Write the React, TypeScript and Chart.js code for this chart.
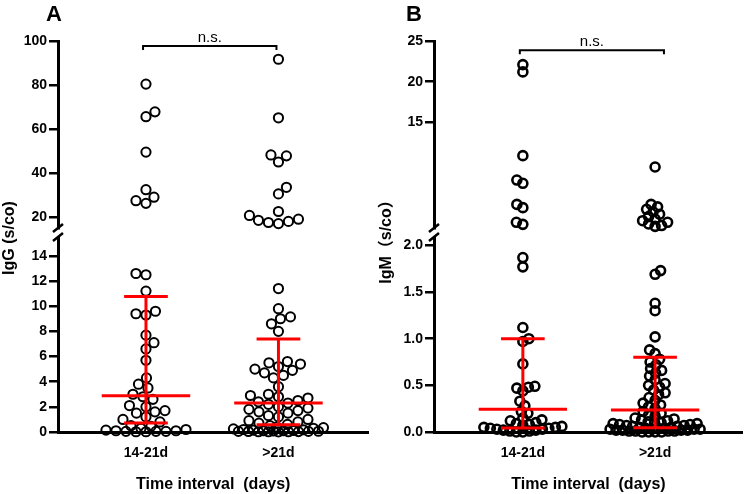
import React, { useEffect, useRef } from 'react';
import { Chart, registerables } from 'chart.js';

Chart.register(...registerables);

const FONT = "Arial, 'Liberation Sans', 'Noto Sans CJK SC', sans-serif";
Chart.defaults.font.family = FONT;

// ---------- data ----------
const categories = ['14-21d', '>21d'];

// Panel A: IgG
const iggEarlyUpper = [80.4, 67.8, 65.6, 49.5, 32.4, 29.0, 27.4, 26.2];
const iggEarlyLower = [12.6, 12.5, 11.2, 9.6, 9.4, 9.3, 7.7, 7.1, 6.6, 5.7, 4.3, 3.8, 3.5, 3.0, 2.8, 2.6, 2.1, 2.0, 1.7, 1.6, 1.5, 1.2, 1.0, 0.8, 0.5, 0.45, 0.3, 0.2, 0.15, 0.1, 0.1, 0.05, 0.05, 0.05, 0.02, 0.02];
const iggLateUpper = [91.7, 65.1, 48.2, 47.8, 45.0, 33.5, 30.5, 22.5, 20.7, 19.0, 18.5, 18.0, 17.5, 17.0];
const iggLateLower = [11.4, 9.8, 9.15, 9.0, 8.6, 8.0, 5.6, 5.5, 5.4, 5.2, 5.0, 4.9, 4.7, 4.5, 4.3, 3.6, 3.0, 2.9, 2.8, 2.7, 2.5, 2.4, 2.3, 2.2, 2.0, 1.9, 1.8, 1.7, 1.6, 1.5, 1.3, 1.2, 1.0, 0.9, 0.8, 0.7, 0.6, 0.5, 0.4, 0.35, 0.3, 0.25, 0.2, 0.18, 0.15, 0.12, 0.1, 0.1, 0.08, 0.06, 0.05, 0.05, 0.04, 0.03, 0.02, 0.02, 0.02, 0.01];
const iggMedian = [2.88, 2.3];
const iggQ1 = [0.72, 0.57];
const iggQ3 = [10.77, 7.4];
const iggUpperTicks = [20, 40, 60, 80, 100];
const iggLowerTicks = [0, 2, 4, 6, 8, 10, 12, 14];

// Panel B: IgM
const igmEarlyUpper = [22.1, 21.2, 10.9, 7.9, 7.5, 4.9, 4.5, 2.7, 2.45];
const igmEarlyLower = [1.87, 1.77, 1.12, 1.0, 0.97, 0.73, 0.49, 0.48, 0.47, 0.44, 0.33, 0.28, 0.22, 0.2, 0.15, 0.13, 0.12, 0.1, 0.09, 0.08, 0.07, 0.06, 0.05, 0.05, 0.04, 0.04, 0.03, 0.03, 0.02, 0.02, 0.01, 0.01, 0.0, 0.0];
const igmLateUpper = [9.5, 4.9, 4.6, 4.3, 4.0, 3.7, 3.4, 3.1, 2.9, 2.7, 2.5, 2.3, 2.2];
const igmLateLower = [1.73, 1.69, 1.38, 1.3, 1.02, 0.88, 0.84, 0.78, 0.75, 0.72, 0.68, 0.66, 0.63, 0.6, 0.56, 0.52, 0.5, 0.48, 0.45, 0.42, 0.4, 0.37, 0.34, 0.31, 0.29, 0.27, 0.25, 0.22, 0.2, 0.18, 0.17, 0.15, 0.14, 0.13, 0.12, 0.11, 0.1, 0.1, 0.09, 0.09, 0.08, 0.08, 0.07, 0.07, 0.06, 0.06, 0.05, 0.05, 0.04, 0.04, 0.04, 0.03, 0.03, 0.03, 0.03, 0.02, 0.02, 0.02, 0.02, 0.01, 0.01, 0.01, 0.01, 0.0, 0.0, 0.0, 0.0];
const igmMedian = [0.245, 0.236];
const igmQ1 = [0.044, 0.046];
const igmQ3 = [1.0, 0.8];
const igmUpperTicks = [15, 20, 25];
const igmLowerTicks = [0, 0.5, 1.0, 1.5, 2.0];

// ---------- styling constants ----------
const RED = '#ff0000';
const MED_HALF = 0.334;
const CAP_HALF = 0.165;
const Y_AXIS_W = 45;
const X_AXIS_H = 62;

type PanelSpec = {
  letter: string;
  letterX: number;
  yTitle: string;
  titleX: number;
  upperMin: number;
  upperMax: number;
  upperTicks: number[];
  lowerMax: number;
  lowerTicks: number[];
  decimals: number;
  upper: number[][];
  lower: number[][];
  median: number[];
  q1: number[];
  q3: number[];
  xMin: number;
  xMax: number;
  padLeft: number;
  bracketX: number[];
  bracketY: number;
  radius: number;
  border: number;
  swarmGap: number;
};

const panelA: PanelSpec = {
  letter: 'A', letterX: 54, yTitle: 'IgG (s/co)', titleX: 10,
  upperMin: 15, upperMax: 100, upperTicks: iggUpperTicks,
  lowerMax: 15.5, lowerTicks: iggLowerTicks, decimals: 0,
  upper: [iggEarlyUpper, iggLateUpper], lower: [iggEarlyLower, iggLateLower],
  median: iggMedian, q1: iggQ1, q3: iggQ3,
  xMin: 0.336, xMax: 2.679, padLeft: 13,
  bracketX: [0.978, 1.985], bracketY: 97.7,
  radius: 4.6, border: 2, swarmGap: 10,
};

const panelB: PanelSpec = {
  letter: 'B', letterX: 39, yTitle: 'IgM（s/co）', titleX: 12,
  upperMin: 2, upperMax: 25, upperTicks: igmUpperTicks,
  lowerMax: 2.09, lowerTicks: igmLowerTicks, decimals: 1,
  upper: [igmEarlyUpper, igmLateUpper], lower: [igmEarlyLower, igmLateLower],
  median: igmMedian, q1: igmQ1, q3: igmQ3,
  xMin: 0.328, xMax: 2.664, padLeft: 14,
  bracketX: [0.977, 2.067], bracketY: 23.86,
  radius: 4.5, border: 2.6, swarmGap: 6.5,
};

function swarmOffsets(ys: number[], d: number, maxW: number): number[] {
  const order = ys.map((_, i) => i).sort((a, b) => ys[b] - ys[a]);
  const placed: { x: number; y: number }[] = [];
  const out = new Array(ys.length).fill(0);
  let flip = 1;
  for (const i of order) {
    const y = ys[i];
    let best = 0;
    let bestScore = -Infinity;
    let found = false;
    for (let k = 0; k <= maxW && !found; k += 0.5) {
      const sides = k === 0 ? [0] : [flip * k, -flip * k];
      for (const x of sides) {
        let minD = Infinity;
        for (const p of placed) {
          const dd = Math.hypot(p.x - x, p.y - y);
          if (dd < minD) minD = dd;
        }
        if (minD >= d) { best = x; found = true; break; }
        if (minD > bestScore + 0.01) { bestScore = minD; best = x; }
      }
    }
    flip = -flip;
    placed.push({ x: best, y });
    out[i] = best;
  }
  return out;
}

function buildChart(canvas: HTMLCanvasElement, p: PanelSpec): Chart {
  const datasets: any[] = [];
  const seg = (pts: { x: number; y: number }[]) => ({
    type: 'line', data: pts, xAxisID: 'x', yAxisID: 'y', borderColor: RED, borderWidth: 3,
    pointRadius: 0, showLine: true, fill: false, borderCapStyle: 'butt', clip: false, order: 0,
  });
  p.median.forEach((m, i) => {
    const c = i + 1;
    datasets.push(seg([{ x: c - MED_HALF, y: m }, { x: c + MED_HALF, y: m }]));
    datasets.push(seg([{ x: c, y: p.q1[i] }, { x: c, y: p.q3[i] }]));
    datasets.push(seg([{ x: c - CAP_HALF, y: p.q1[i] }, { x: c + CAP_HALF, y: p.q1[i] }]));
    datasets.push(seg([{ x: c - CAP_HALF, y: p.q3[i] }, { x: c + CAP_HALF, y: p.q3[i] }]));
  });
  const pointDs = (vals: number[], c: number, axis: string) => ({
    type: 'scatter', data: vals.map((v) => ({ x: c, y: v })), xAxisID: 'x', yAxisID: axis,
    pointRadius: p.radius, pointBorderWidth: p.border, borderColor: '#000', pointBorderColor: '#000',
    backgroundColor: 'rgba(0,0,0,0)', pointBackgroundColor: 'rgba(0,0,0,0)', clip: false, order: 1,
  });
  const upIdx: number[] = [];
  const lowIdx: number[] = [];
  p.upper.forEach((vals, i) => { upIdx.push(datasets.length); datasets.push(pointDs(vals, i + 1, 'yUp')); });
  p.lower.forEach((vals, i) => { lowIdx.push(datasets.length); datasets.push(pointDs(vals, i + 1, 'y')); });

  const tickFont = { size: 14, weight: 'bold' as const };
  const yCommon = {
    type: 'linear' as const,
    position: 'left' as const,
    stack: 'yy',
    afterFit: (s: any) => { s.width = Y_AXIS_W; },
    ticks: {
      font: tickFont, color: '#000', padding: 2, autoSkip: false,
      callback: (v: any) => Number(v).toFixed(p.decimals),
    },
    grid: { display: true, drawOnChartArea: false, drawTicks: true, tickLength: 9, lineWidth: 2.5, color: '#000' },
    border: { display: true, color: '#000', width: 3 },
  };

  const decor = {
    id: 'decor',
    afterDraw(chart: any) {
      const ctx = chart.ctx as CanvasRenderingContext2D;
      const xs = chart.scales.x;
      const yu = chart.scales.yUp;
      const yl = chart.scales.y;
      ctx.save();
      ctx.fillStyle = '#000';
      ctx.strokeStyle = '#000';
      // panel letter
      ctx.font = `bold 22px ${FONT}`;
      ctx.textAlign = 'center';
      ctx.textBaseline = 'middle';
      ctx.fillText(p.letter, p.letterX, 15);
      // y title
      ctx.save();
      ctx.translate(p.titleX, 238);
      ctx.rotate(-Math.PI / 2);
      ctx.font = `bold 16px ${FONT}`;
      ctx.fillText(p.yTitle, 0, 0);
      ctx.restore();
      // break marks
      const ax = yu.right;
      ctx.lineWidth = 2.5;
      ctx.beginPath();
      for (const yy of [yu.bottom, yl.top]) {
        ctx.moveTo(ax - 5, yy + 4);
        ctx.lineTo(ax + 5, yy - 4);
      }
      ctx.stroke();
      // significance bracket
      const bx1 = xs.getPixelForValue(p.bracketX[0]);
      const bx2 = xs.getPixelForValue(p.bracketX[1]);
      const by = yu.getPixelForValue(p.bracketY);
      ctx.lineWidth = 2;
      ctx.beginPath();
      ctx.moveTo(bx1, by + 4);
      ctx.lineTo(bx1, by);
      ctx.lineTo(bx2, by);
      ctx.lineTo(bx2, by + 4);
      ctx.stroke();
      ctx.font = `15px ${FONT}`;
      ctx.textBaseline = 'alphabetic';
      ctx.fillText('n.s.', (bx1 + bx2) / 2, by - 4);
      ctx.restore();
    },
  };

  const chart = new Chart(canvas, {
    type: 'scatter',
    data: { datasets },
    options: {
      animation: false,
      responsive: false,
      devicePixelRatio: 1,
      layout: { padding: { left: p.padLeft, right: 3, top: 41, bottom: 0 } },
      plugins: { legend: { display: false }, tooltip: { enabled: false } },
      scales: {
        x: {
          type: 'linear', position: 'bottom', min: p.xMin, max: p.xMax,
          afterBuildTicks: (s: any) => { s.ticks = categories.map((_, i) => ({ value: i + 1 })); },
          afterFit: (s: any) => { s.height = X_AXIS_H; },
          ticks: {
            font: tickFont, color: '#000', padding: 5, maxRotation: 0, autoSkip: false,
            callback: (v: any) => categories[Math.round(Number(v)) - 1] ?? '',
          },
          grid: { display: false },
          border: { display: true, color: '#000', width: 3 },
          title: {
            display: true, text: 'Time interval  (days)', color: '#000',
            font: { size: 16, weight: 'bold' }, padding: { top: 0, bottom: 0 },
          },
        },
        yUp: {
          ...yCommon, weight: 3, stackWeight: 187, min: p.upperMin, max: p.upperMax,
          afterBuildTicks: (s: any) => { s.ticks = p.upperTicks.map((v) => ({ value: v })); },
          ticks: { ...yCommon.ticks, callback: (v: any) => String(v) },
        },
        yGap: {
          type: 'linear', position: 'left', stack: 'yy', weight: 2, stackWeight: 9, display: false,
        },
        y: {
          ...yCommon, weight: 1, stackWeight: 195, min: 0, max: p.lowerMax,
          afterBuildTicks: (s: any) => { s.ticks = p.lowerTicks.map((v) => ({ value: v })); },
        },
      } as any,
    },
    plugins: [decor],
  } as any);

  // beeswarm spreading, computed from the value positions on the library's scales
  const xs = chart.scales.x;
  const ppu = xs.getPixelForValue(2) - xs.getPixelForValue(1);
  p.upper.forEach((upVals, gi) => {
    const lowVals = p.lower[gi];
    const ys = [
      ...upVals.map((v) => chart.scales.yUp.getPixelForValue(v)),
      ...lowVals.map((v) => chart.scales.y.getPixelForValue(v)),
    ];
    const offs = swarmOffsets(ys, p.swarmGap, 45);
    const c = gi + 1;
    const upData = (chart.data.datasets[upIdx[gi]] as any).data;
    const lowData = (chart.data.datasets[lowIdx[gi]] as any).data;
    upVals.forEach((v, k) => { upData[k] = { x: c + offs[k] / ppu, y: v }; });
    lowVals.forEach((v, k) => { lowData[k] = { x: c + offs[upVals.length + k] / ppu, y: v }; });
  });
  chart.update('none');
  return chart;
}

function Panel({ spec, left }: { spec: PanelSpec; left: number }) {
  const ref = useRef<HTMLCanvasElement>(null);
  useEffect(() => {
    if (!ref.current) return;
    const chart = buildChart(ref.current, spec);
    return () => chart.destroy();
  }, [spec]);
  return (
    <canvas
      ref={ref}
      width={375}
      height={494}
      style={{ position: 'absolute', left, top: 0, width: 375, height: 494, display: 'block' }}
    />
  );
}

export default function App() {
  return (
    <div style={{ position: 'absolute', left: 0, top: 0, width: 750, height: 494, background: '#fff' }}>
      <Panel spec={panelA} left={0} />
      <Panel spec={panelB} left={375} />
    </div>
  );
}
